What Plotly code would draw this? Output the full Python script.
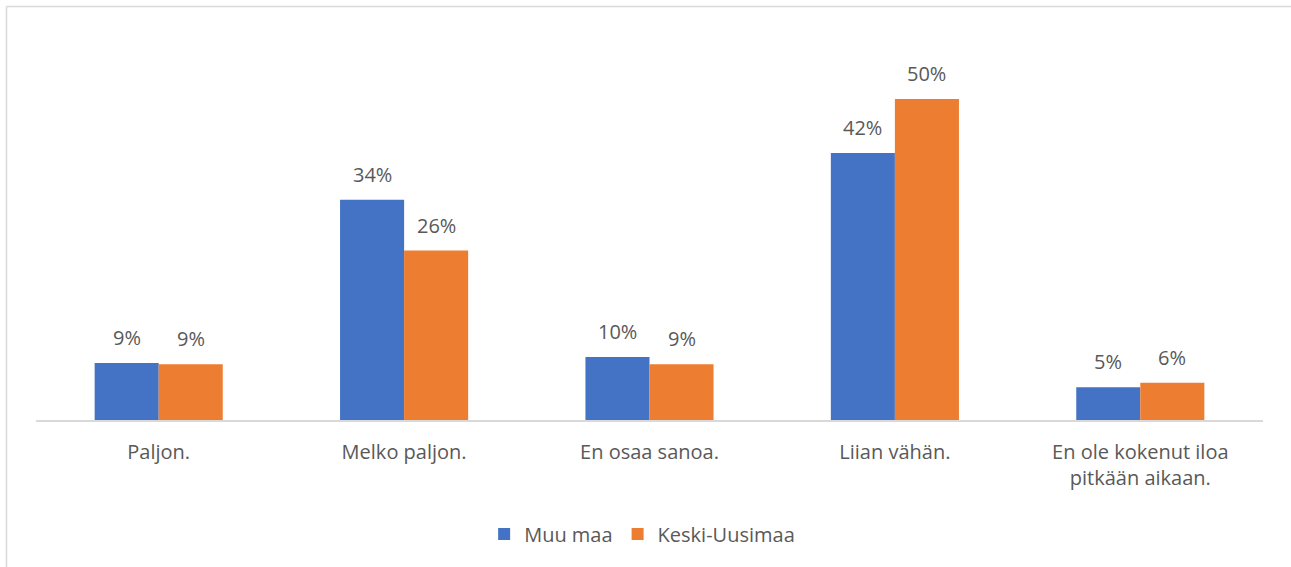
import plotly.graph_objects as go

categories = ["Paljon.", "Melko paljon.", "En osaa sanoa.", "Liian vähän.",
              "En ole kokenut iloa<br>pitkään aikaan."]
series_names = ["Muu maa", "Keski-Uusimaa"]
muu_maa = [8.9, 34.3, 9.8, 41.6, 5.1]
keski_uusimaa = [8.7, 26.4, 8.7, 50.0, 5.8]
colors = ["#4472C4", "#ED7D31"]

W, H = 1291, 567
L, R, T, B = 36, 28, 67, 147
plot_w = W - L - R
plot_h = H - T - B
txt = "#595959"
FONT = "Open Sans"

fig = go.Figure()
for name, vals, col in zip(series_names, [muu_maa, keski_uusimaa], colors):
    fig.add_trace(go.Bar(x=categories, y=vals, name=name, marker_color=col,
                         marker_line_width=0))

annotations = []
for vals, shift in [(muu_maa, -32), (keski_uusimaa, 32)]:
    for c, v in zip(categories, vals):
        annotations.append(dict(x=c, y=v, xref="x", yref="y", text=f"{v:.0f}%",
                                showarrow=False, xshift=shift, yanchor="bottom",
                                yshift=10, font=dict(family=FONT, size=20, color=txt)))

def px_x(px):
    return (px - L) / plot_w

def px_y(py):
    return (H - B - py) / plot_h

shapes = [
    dict(type="line", xref="paper", yref="paper", x0=px_x(6.5), x1=px_x(1295),
         y0=px_y(6.5), y1=px_y(6.5), line=dict(color="#d9d9d9", width=1.5)),
    dict(type="line", xref="paper", yref="paper", x0=px_x(6.5), x1=px_x(6.5),
         y0=px_y(6.5), y1=px_y(575), line=dict(color="#d9d9d9", width=1.5)),
]

fig.update_layout(
    width=W, height=H,
    margin=dict(l=L, r=R, t=T, b=B),
    paper_bgcolor="white", plot_bgcolor="white",
    barmode="group", bargap=0.478, bargroupgap=0,
    font=dict(family=FONT, size=20, color=txt),
    showlegend=True,
    legend=dict(orientation="h", x=0.494, xanchor="center", y=px_y(534),
                yanchor="middle", font=dict(family=FONT, size=20, color=txt),
                itemwidth=30, traceorder="normal"),
    annotations=annotations,
    shapes=shapes,
    xaxis=dict(showline=True, linecolor="#d9d9d9", linewidth=1.5, ticks="",
               showgrid=False, zeroline=False, ticklabelstandoff=13,
               tickfont=dict(family=FONT, size=20, color=txt)),
    yaxis=dict(range=[0, 55], visible=False, showgrid=False, zeroline=False),
)

fig.write_html("out.html", config={"displayModeBar": False},
               post_script="document.body.style.margin='0';document.body.style.overflow='hidden';")
